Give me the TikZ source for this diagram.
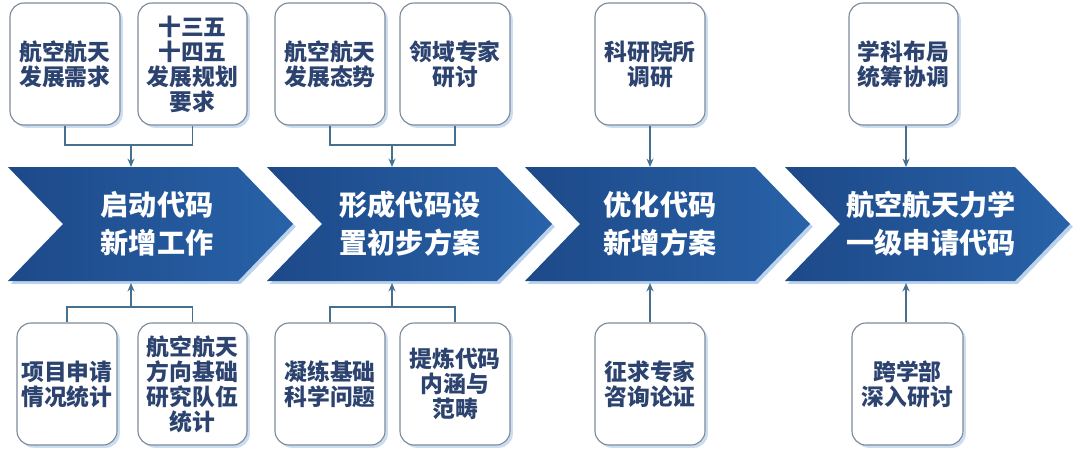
\documentclass[tikz,border=0pt]{standalone}
\usepackage{fontspec}
\setmainfont{Noto Sans CJK SC}
\usetikzlibrary{arrows.meta,shadows}

\definecolor{chevdark}{HTML}{1D4989}
\definecolor{chevlight}{HTML}{2862A8}
\definecolor{boxtext}{HTML}{2C4370}
\definecolor{linkcol}{HTML}{45708F}
\definecolor{boxedge}{HTML}{7D8A99}
\definecolor{glow}{HTML}{A9C7E6}

\newcommand*{\chevtop}{167}
\newcommand*{\chevbot}{281}
\newcommand*{\chevmid}{224}
\newcommand*{\chevlen}{230}
\newcommand*{\chevdepth}{55}

\begin{document}
\begin{tikzpicture}
[
	x=0.025cm, y=-0.025cm,
	infobox/.style={draw=boxedge,line width=0.8pt,fill=white,rounded corners=10pt,
		text=boxtext,font=\fontsize{16.2}{17.8}\selectfont\bfseries,align=center,
		inner sep=0pt,minimum height=3.05cm,
		drop shadow={shadow xshift=2pt,shadow yshift=-2pt,fill=glow,opacity=0.6}},
	chevtext/.style={text=white,font=\fontsize{20}{27}\selectfont\bfseries,align=center},
	link/.style={draw=linkcol,line width=1pt},
	arrowlink/.style={link,-{Stealth[length=6pt,width=5pt]}}
]

	\useasboundingbox (0,0) rectangle (1080,454);

	% chevrons
	\foreach \xs in {8,267,525,785}
	{
		\path[left color=chevdark,right color=chevlight,
			drop shadow={shadow xshift=2pt,shadow yshift=-2pt,fill=glow,opacity=0.8}]
		  (\xs,\chevtop) -- (\xs+\chevlen,\chevtop) -- (\xs+\chevlen+\chevdepth,\chevmid)
		  -- (\xs+\chevlen,\chevbot) -- (\xs,\chevbot) -- (\xs+\chevdepth,\chevmid) -- cycle;
	}

	% stage labels
	\node[chevtext] (s1) at (157,224) {启动代码\\新增工作};
	\node[chevtext] (s2) at (410,224) {形成代码设\\置初步方案};
	\node[chevtext] (s3) at (660,224) {优化代码\\新增方案};
	\node[chevtext] (s4) at (931,224) {航空航天力学\\一级申请代码};

	% top inputs
	\node[infobox,minimum width=2.75cm] (t1a) at (65,64) {航空航天\\发展需求};
	\node[infobox,minimum width=2.725cm] (t1b) at (192.5,64) {十三五\\十四五\\发展规划\\要求};
	\node[infobox,minimum width=2.75cm] (t2a) at (330,64) {航空航天\\发展态势};
	\node[infobox,minimum width=2.75cm] (t2b) at (455,64) {领域专家\\研讨};
	\node[infobox,minimum width=2.75cm] (t3) at (650,64) {科研院所\\调研};
	\node[infobox,minimum width=2.725cm] (t4) at (903.5,64) {学科布局\\统筹协调};

	% bottom inputs
	\node[infobox,minimum width=2.5cm] (b1a) at (67,384) {项目申请\\情况统计};
	\node[infobox,minimum width=2.725cm] (b1b) at (192.5,384) {航空航天\\方向基础\\研究队伍\\统计};
	\node[infobox,minimum width=2.75cm] (b2a) at (330,384) {凝练基础\\科学问题};
	\node[infobox,minimum width=2.75cm] (b2b) at (455,384) {提炼代码\\内涵与\\范畴};
	\node[infobox,minimum width=2.75cm] (b3) at (650,384) {征求专家\\咨询论证};
	\node[infobox,minimum width=2.775cm] (b4) at (907.5,384) {跨学部\\深入研讨};

	% junctions and arrow ends
	\coordinate (j1) at (131,145);
	\coordinate (j2) at (392,145);
	\coordinate (k1) at (131,307);
	\coordinate (k2) at (392,307);
	\coordinate (s1n) at (131,\chevtop);
	\coordinate (s2n) at (392,\chevtop);
	\coordinate (s3n) at (650,\chevtop);
	\coordinate (s4n) at (906,\chevtop);
	\coordinate (s1s) at (131,283);
	\coordinate (s2s) at (392,283);
	\coordinate (s3s) at (650,283);
	\coordinate (s4s) at (906,283);

	% connectors
	\draw[link] (t1a.south) |- (j1) -| (t1b.south);
	\draw[arrowlink] (j1) -- (s1n);
	\draw[link] (t2a.south) |- (j2) -| (t2b.south);
	\draw[arrowlink] (j2) -- (s2n);
	\draw[arrowlink] (t3.south) -- (s3n);
	\draw[arrowlink] (t4.south -| s4n) -- (s4n);

	\draw[link] (b1a.north) |- (k1) -| (b1b.north);
	\draw[arrowlink] (k1) -- (s1s);
	\draw[link] (b2a.north) |- (k2) -| (b2b.north);
	\draw[arrowlink] (k2) -- (s2s);
	\draw[arrowlink] (b3.north) -- (s3s);
	\draw[arrowlink] (b4.north -| s4s) -- (s4s);

\end{tikzpicture}
\end{document}
